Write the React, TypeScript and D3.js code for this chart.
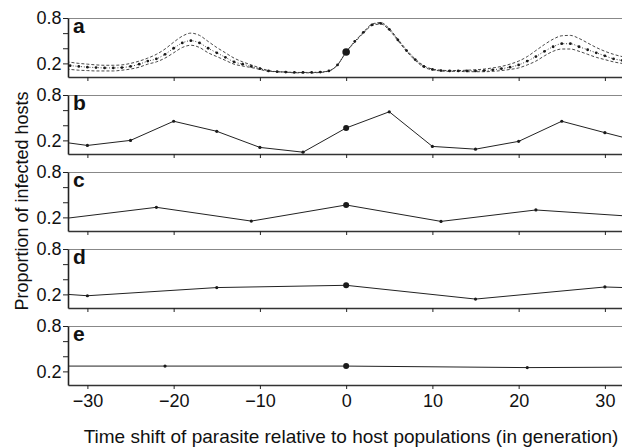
import React, { useRef, useEffect } from 'react';
import * as d3 from 'd3';

// panel a: lag in generations, mean and the two bounding curves
const lagsA = d3.range(-33, 34);
const meanA = [
  0.18, 0.17, 0.16, 0.15, 0.145, 0.14, 0.14, 0.145, 0.16, 0.19, 0.23,
  0.26, 0.32, 0.4, 0.47, 0.5, 0.47, 0.4, 0.34, 0.28, 0.22, 0.19,
  0.16, 0.13, 0.1, 0.09, 0.085, 0.08, 0.08, 0.08, 0.085, 0.1, 0.18,
  0.35,
  0.49, 0.61, 0.71, 0.73, 0.65, 0.51, 0.37, 0.25, 0.16, 0.12, 0.105,
  0.1, 0.1, 0.1, 0.1, 0.105, 0.115, 0.13, 0.15, 0.18, 0.23, 0.29,
  0.36, 0.42, 0.46, 0.46, 0.42, 0.38, 0.34, 0.3, 0.26, 0.24, 0.22
];
const upperA = [
  0.23, 0.215, 0.2, 0.19, 0.18, 0.175, 0.175, 0.18, 0.2, 0.23, 0.27,
  0.32, 0.39, 0.48, 0.56, 0.6, 0.57, 0.49, 0.41, 0.34, 0.27, 0.22,
  0.18, 0.14, 0.105, 0.09, 0.085, 0.08, 0.08, 0.08, 0.085, 0.1, 0.18,
  0.35,
  0.49, 0.61, 0.72, 0.74, 0.66, 0.52, 0.38, 0.26, 0.17, 0.125, 0.11,
  0.105, 0.105, 0.11, 0.115, 0.125, 0.14, 0.16, 0.19, 0.23, 0.29, 0.37,
  0.45, 0.52, 0.565, 0.57, 0.53, 0.47, 0.41, 0.36, 0.32, 0.29, 0.27
];
const lowerA = [
  0.13, 0.12, 0.11, 0.105, 0.1, 0.1, 0.1, 0.11, 0.125, 0.15, 0.19,
  0.22, 0.27, 0.34, 0.41, 0.44, 0.41, 0.34, 0.29, 0.24, 0.19, 0.165,
  0.145, 0.12, 0.095, 0.09, 0.085, 0.075, 0.075, 0.075, 0.08, 0.1, 0.18,
  0.35,
  0.48, 0.6, 0.7, 0.72, 0.64, 0.5, 0.36, 0.24, 0.15, 0.115, 0.1,
  0.095, 0.095, 0.09, 0.09, 0.09, 0.095, 0.105, 0.12, 0.14, 0.18, 0.23,
  0.3, 0.36, 0.39, 0.39, 0.36, 0.32, 0.28, 0.25, 0.22, 0.2, 0.19
];

// panels b-e: sampled lags
const lagsB = [-35, -30, -25, -20, -15, -10, -5, 0, 5, 10, 15, 20, 25, 30, 35];
const valuesB = [0.21, 0.133, 0.2, 0.453, 0.32, 0.107, 0.044, 0.364, 0.578, 0.12, 0.084, 0.187, 0.453, 0.302, 0.156];
const lagsC = [-33, -22, -11, 0, 11, 22, 33];
const valuesC = [0.18, 0.333, 0.151, 0.364, 0.147, 0.298, 0.215];
const lagsD = [-45, -30, -15, 0, 15, 30, 45];
const valuesD = [0.3, 0.182, 0.29, 0.32, 0.138, 0.298, 0.245];
const lagsE = [-42, -21, 0, 21, 42];
const valuesE = [0.27, 0.27, 0.27, 0.25, 0.26];

const panelLetters = ['a', 'b', 'c', 'd', 'e'];
const xTicks = [-30, -20, -10, 0, 10, 20, 30];
const yTicks = [0.2, 0.4, 0.6, 0.8];
const yLabelled = [0.2, 0.8];

const FONT = '"Liberation Sans", Arial, Helvetica, sans-serif';

function App() {
  const svgRef = useRef(null);
  const width = 622;
  const height = 448;

  useEffect(() => {
    const root = d3.select(svgRef.current);
    root.selectAll('*').remove();

    const left = 68;
    const panelH = 59;
    const panelTops = [18, 95, 172, 249, 326];

    const x = d3.scaleLinear().domain([-32.25, 32.1]).range([left, 623]);

    const panels = [
      { lags: lagsB, values: valuesB },
      { lags: lagsC, values: valuesC },
      { lags: lagsD, values: valuesD },
      { lags: lagsE, values: valuesE }
    ];

    panelLetters.forEach((letter, i) => {
      const top = panelTops[i];
      const y = d3.scaleLinear().domain([0.02, 0.8]).range([top + panelH, top]);
      const g = root.append('g');

      // clip so lines stop at the frame
      root.append('clipPath')
        .attr('id', `clip-${letter}`)
        .append('rect')
        .attr('x', left)
        .attr('y', top - 2)
        .attr('width', width - left)
        .attr('height', panelH + 4);

      const plot = g.append('g').attr('clip-path', `url(#clip-${letter})`);

      if (i === 0) {
        const line = d3.line<number>()
          .x((d, k) => x(lagsA[k]))
          .y(d => y(d))
          .curve(d3.curveMonotoneX);

        [upperA, lowerA].forEach(vals => {
          plot.append('path')
            .attr('d', line(vals))
            .attr('fill', 'none')
            .attr('stroke', '#333')
            .attr('stroke-width', 0.9)
            .attr('stroke-dasharray', '3,2');
        });

        plot.append('path')
          .attr('d', line(meanA))
          .attr('fill', 'none')
          .attr('stroke', '#333')
          .attr('stroke-width', 0.9)
          .attr('stroke-dasharray', '1,1.8');

        plot.selectAll('.dot')
          .data(meanA)
          .enter()
          .append('circle')
          .attr('cx', (d, k) => x(lagsA[k]))
          .attr('cy', d => y(d))
          .attr('r', (d, k) => (lagsA[k] === 0 ? 3.8 : 1.4))
          .attr('fill', '#1a1a1a');
      } else {
        const { lags, values } = panels[i - 1];
        const line = d3.line<number>()
          .x((d, k) => x(lags[k]))
          .y(d => y(d));

        plot.append('path')
          .attr('d', line(values))
          .attr('fill', 'none')
          .attr('stroke', '#222')
          .attr('stroke-width', 1);

        plot.selectAll('.dot')
          .data(values)
          .enter()
          .append('circle')
          .attr('cx', (d, k) => x(lags[k]))
          .attr('cy', d => y(d))
          .attr('r', (d, k) => (lags[k] === 0 ? 3 : 1.6))
          .attr('fill', '#1a1a1a');
      }

      // top frame line
      g.append('line')
        .attr('x1', left)
        .attr('x2', width)
        .attr('y1', top + 0.5)
        .attr('y2', top + 0.5)
        .attr('stroke', '#888')
        .attr('stroke-width', 1.2);

      // bottom axis
      const xAxis = g.append('g')
        .attr('transform', `translate(0,${top + panelH})`)
        .call(d3.axisBottom(x)
          .tickValues(xTicks)
          .tickSize(4)
          .tickSizeOuter(0)
          .tickPadding(5)
          .tickFormat(i === 4 ? d3.format('d') : () => ''));
      xAxis.select('.domain').attr('stroke', '#333').attr('stroke-width', 1.5);
      xAxis.selectAll('.tick line').attr('stroke', '#222').attr('stroke-width', 1);
      xAxis.selectAll('text')
        .attr('fill', '#111')
        .style('font-family', FONT)
        .style('font-size', '18px');

      // left axis
      const yAxis = g.append('g')
        .attr('transform', `translate(${left},0)`)
        .call(d3.axisLeft(y)
          .tickValues(yTicks)
          .tickSize(5)
          .tickSizeOuter(0)
          .tickPadding(1.5)
          .tickFormat(v => (yLabelled.includes(v as number) ? d3.format('.1f')(v as number) : '')));
      yAxis.select('.domain').attr('stroke', '#222').attr('stroke-width', 1.6);
      yAxis.selectAll('.tick line').attr('stroke', '#222').attr('stroke-width', 1);
      yAxis.selectAll('text')
        .attr('fill', '#111')
        .style('font-family', FONT)
        .style('font-size', '18px');

      // panel letter
      g.append('text')
        .attr('x', 73)
        .attr('y', top + 15)
        .style('font-family', FONT)
        .style('font-size', '21px')
        .style('font-weight', '900')
        .attr('fill', '#111')
        .text(letter);
    });

    // x-axis title
    root.append('text')
      .attr('x', 351)
      .attr('y', 443)
      .attr('text-anchor', 'middle')
      .style('font-family', FONT)
      .style('font-size', '19px')
      .attr('fill', '#111')
      .text('Time shift of parasite relative to host populations (in generation)');

    // y-axis title
    root.append('text')
      .attr('transform', 'translate(28,201) rotate(-90)')
      .attr('text-anchor', 'middle')
      .style('font-family', FONT)
      .style('font-size', '18px')
      .attr('fill', '#111')
      .text('Proportion of infected hosts');
  }, []);

  return (
    <div style={{ position: 'absolute', left: 0, top: 0, background: '#fff' }}>
      <svg ref={svgRef} width={width} height={height} style={{ display: 'block' }}></svg>
    </div>
  );
}

export default App;
